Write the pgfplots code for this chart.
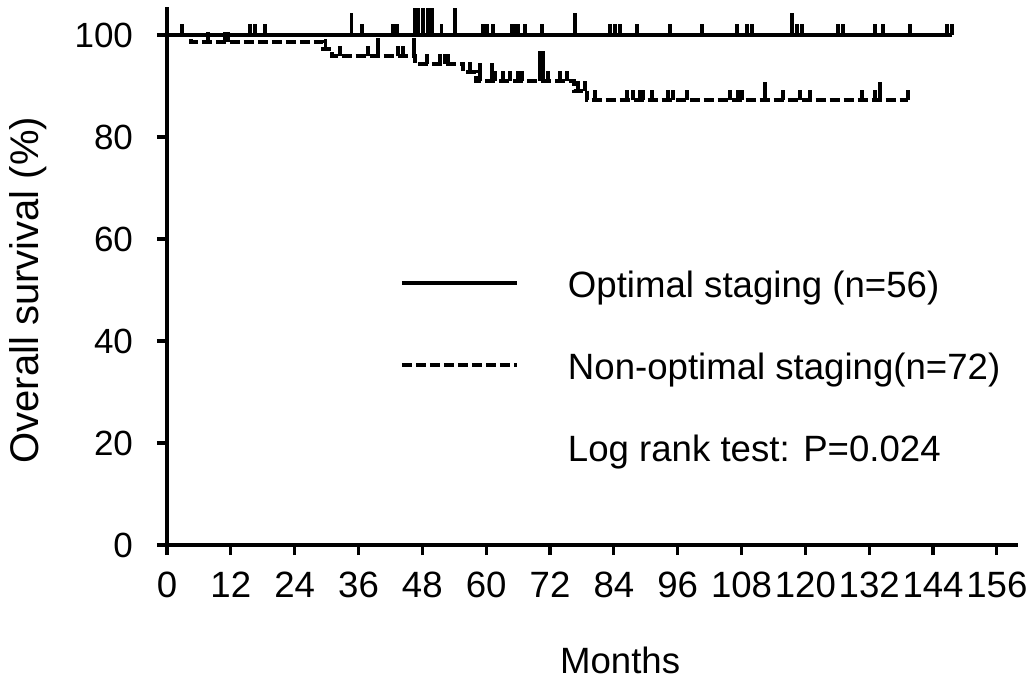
\documentclass[border=0pt]{standalone}
\usepackage{fontspec}
\setmainfont{Liberation Sans}
\usepackage{pgfplots}
\usepackage{pgfplotstable}
\pgfplotsset{compat=1.18}
\pgfdeclareplotmark{cens}{\pgfpathmoveto{\pgfpointorigin}\pgfpathlineto{\pgfqpoint{0pt}{\pgfplotmarksize}}\pgfusepathqstroke}
\newcommand\fs{\fontsize{18.3bp}{22bp}\selectfont}
\newcommand\fsy{\fontsize{20bp}{24bp}\selectfont}
\newcommand\fst{\fontsize{17.5bp}{21bp}\selectfont}

% survival curves
\pgfplotstableread{
t s
0 100
147.6 100
}\optimal
\pgfplotstableread{
t s
0 100
4.5 98.6
29.3 97.2
31.0 95.8
46.6 94.3
55.6 92.7
58.0 91.0
76.5 89.1
79.0 87.2
139.3 87.2
}\nonoptimal
% censoring marks
\pgfplotstableread{
t s
2.8 100
15.6 100
16.5 100
18.4 100
36.6 100
42.5 100
43.2 100
51.6 100
59.4 100
60.2 100
61.3 100
64.8 100
65.4 100
66.0 100
67.3 100
70.5 100
83.3 100
84.2 100
85.2 100
88.3 100
94.5 100
100.6 100
107.1 100
109.0 100
110.0 100
118.4 100
119.4 100
126.1 100
127.1 100
133.1 100
134.6 100
139.7 100
146.6 100
147.6 100
}\optcens
\pgfplotstableread{
t s
34.7 100
76.7 100
117.5 100
}\optcensmid
\pgfplotstableread{
t s
46.6 100
47.2 100
48.1 100
49.1 100
49.8 100
54.1 100
}\optcenstall
\pgfplotstableread{
t s
7.7 98.6
10.9 98.6
11.5 98.6
29.8 97.2
32.5 95.8
37.8 95.8
43.4 95.8
44.4 95.8
48.9 94.3
51.3 94.3
52.3 94.3
52.8 94.3
57.0 92.7
61.7 91.0
63.2 91.0
64.5 91.0
66.0 91.0
66.7 91.0
71.6 91.0
73.9 91.0
75.2 91.0
77.3 89.1
78.6 89.1
80.5 87.2
86.5 87.2
87.6 87.2
88.9 87.2
89.5 87.2
91.2 87.2
94.2 87.2
95.1 87.2
97.7 87.2
105.8 87.2
107.3 87.2
108.1 87.2
115.8 87.2
119.0 87.2
120.9 87.2
130.6 87.2
133.1 87.2
139.3 87.2
}\noncens
\pgfplotstableread{
t s
39.7 95.8
46.4 95.8
58.8 91.0
61.1 91.0
112.4 87.2
134.0 87.2
}\noncensmid
\pgfplotstableread{
t s
70.1 91.0
70.7 91.0
}\noncenstall

\begin{document}
\begin{tikzpicture}
\begin{axis}[
  scale only axis, width=424.25bp, height=267.75bp,
  xmin=0, xmax=159.5, ymin=0, ymax=105,
  axis x line=bottom, axis y line=left,
  axis line style={-, line width=2.2bp, line cap=rect},
  xtick={0,12,...,156}, ytick={0,20,...,100},
  tick align=outside, major tick length=5bp,
  tick style={line width=1.6bp, black},
  /pgf/number format/assume math mode=true,
  xticklabel style={font=\fs, yshift=-5bp},
  yticklabel style={font=\fst, xshift=-8.5bp},
  xlabel={Months}, ylabel={Overall survival (\%)},
  xlabel style={font=\fs, at={(axis description cs:0.534,-0.2148)}, anchor=center},
  ylabel style={font=\fsy, at={(axis description cs:-0.1638,0.476)}, anchor=center},
  clip=false,
  legend cell align=left,
  legend style={draw=none, fill=none, at={(rel axis cs:0.2746,0.5154)}, anchor=north west,
    inner sep=0pt, outer sep=0pt, row sep=23bp, font=\fs,
    nodes={inner sep=0pt, text height=14bp, text depth=4bp}},
  legend image code/.code={\draw[#1, line cap=butt] (0bp,2bp) -- (57.5bp,2bp); \path[draw=none, fill=none] (0bp,2bp) -- (83bp,2bp);},
]
\addplot[black, line width=1.8bp, no markers] table[x=t,y=s] {\optimal};
\addlegendentry{Optimal staging (n=56)}
\addplot[black, line width=2bp, dash pattern=on 5bp off 2bp, no markers, const plot] table[x=t,y=s] {\nonoptimal};
\addlegendentry{Non-optimal staging(n=72)}
\addlegendimage{empty legend}
\addlegendentry{Log rank test: P=0.024}
\addplot[forget plot, only marks, mark=cens, mark size=5.5bp, mark options={solid, line width=1.9bp, line cap=butt}] table[x=t,y=s] {\optcens};
\addplot[forget plot, only marks, mark=cens, mark size=11bp, mark options={solid, line width=1.9bp, line cap=butt}] table[x=t,y=s] {\optcensmid};
\addplot[forget plot, only marks, mark=cens, mark size=13.5bp, mark options={solid, line width=1.9bp, line cap=butt}] table[x=t,y=s] {\optcenstall};
\addplot[forget plot, only marks, mark=cens, mark size=5bp, mark options={solid, line width=1.9bp, line cap=butt}] table[x=t,y=s] {\noncens};
\addplot[forget plot, only marks, mark=cens, mark size=9bp, mark options={solid, line width=1.9bp, line cap=butt}] table[x=t,y=s] {\noncensmid};
\addplot[forget plot, only marks, mark=cens, mark size=15bp, mark options={solid, line width=1.9bp, line cap=butt}] table[x=t,y=s] {\noncenstall};
\coordinate (O) at (axis cs:0,0);
\end{axis}
\pgfresetboundingbox
\path[use as bounding box] ([shift={(-83.5bp,-70.5bp)}]O) rectangle ([shift={(431.5bp,272.5bp)}]O);
\end{tikzpicture}
\end{document}
